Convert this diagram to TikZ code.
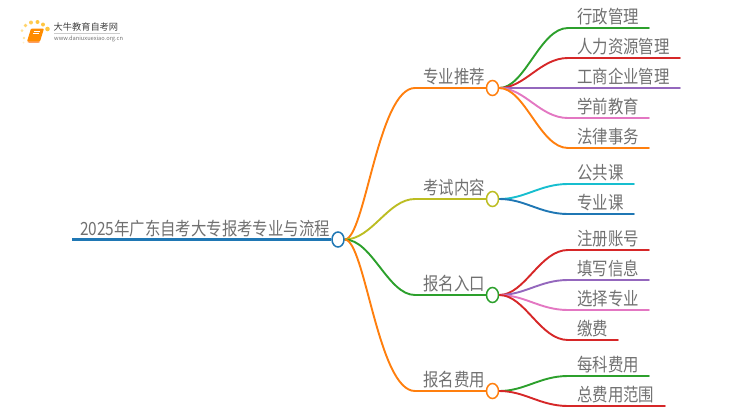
\documentclass[tikz,border=0pt]{standalone}
\usepackage{fontspec}
\setmainfont{Noto Sans CJK SC}
\usetikzlibrary{shapes.geometric,backgrounds}
\definecolor{corange}{HTML}{FF7F0E}
\definecolor{cgreen}{HTML}{2CA02C}
\definecolor{cred}{HTML}{D62728}
\definecolor{cpurple}{HTML}{9467BD}
\definecolor{cpink}{HTML}{E377C2}
\definecolor{colive}{HTML}{BCBD22}
\definecolor{ccyan}{HTML}{17BECF}
\definecolor{cblue}{HTML}{1F77B4}
\definecolor{ctext}{HTML}{707070}
\tikzset{
  x=1pt,y=-1pt,
  hub/.style={ellipse,draw,fill=white,line width=1.5pt,minimum width=12pt,minimum height=15pt,inner sep=0pt},
  lbl/.style={anchor=west,inner sep=0pt,text=ctext,font=\fontsize{15.4}{16}\selectfont},
  link/.style={line width=1.9pt,line cap=round},
  rootlink/.style={line width=2.8pt}
}
\newcommand{\tall}[1]{\scalebox{1}[1.18]{#1}}
\newcommand{\spoke}[4]{%
  \coordinate (#2k) at (568,#3);
  \coordinate (#2e) at (#4,#3);
  \draw[link,#1] (#2.east) .. controls (525,\csname hy#2\endcsname) and (540,#3) .. (#2k) -- (#2e);
}
\begin{document}
\begin{tikzpicture}
\useasboundingbox (0,0) rectangle (750,410);
% logo
\foreach \p/\r/\c in {{(24,38)}/1.4/FFE39A,{(22,30.5)}/1.5/FFE39A,{(25.5,25.5)}/1.8/FFD36B,{(31,22.5)}/2/FFCC55,{(37.5,22)}/2/FFC640,{(43,24.5)}/2/FFC640,{(47.5,29)}/2.3/FFC640,{(23.5,42.5)}/1/FFF0CC}
  {\definecolor{tc}{HTML}{\c}\fill[tc] \p circle (\r);}
\fill[rounded corners=1pt,fill=orange!90!yellow] (31,28.5) -- (44,28.5) -- (40,41.5) -- (27,41.5) -- cycle;
\fill[rounded corners=1pt,fill=corange!85!red] (27,41.5) -- (40,41.5) -- (39.5,42.5) -- (28,42.5) -- cycle;
\draw[white,line width=.5pt] (33.5,31) -- (40,31) (32.8,33.5) -- (39,33.5);
\node[anchor=west,inner sep=0pt,text=black!75] (logotitle) at (53.5,27) {\fontsize{9.2}{10}\selectfont 大牛教育自考网};
\draw[black!20,line width=.5pt] (54,33) -- (120,33);
\node[anchor=west,inner sep=0pt,text=black!55] (logourl) at (54,39) {\fontsize{5.7}{6}\selectfont www.daniuxuexiao.org.cn};
% hubs
\node[hub,draw=cblue] (root) at (338,239.5) {};
\node[hub,draw=corange] (a) at (492.5,88) {};
\node[hub,draw=colive] (b) at (492.5,199) {};
\node[hub,draw=cgreen] (c) at (492.5,295) {};
\node[hub,draw=corange] (d) at (492.5,391) {};
\def\hya{88}\def\hyb{199}\def\hyc{295}\def\hyd{391}
% texts
\node[lbl] (rootlabel) at (80,228.5) {\tall{2025年广东自考大专报考专业与流程}};
\node[lbl] (ta) at (423,77) {\tall{专业推荐}};
\node[lbl] (tb) at (423,188) {\tall{考试内容}};
\node[lbl] (tc) at (423,284) {\tall{报名入口}};
\node[lbl] (td) at (423,380) {\tall{报名费用}};
\node[lbl] (a1) at (577,17) {\tall{行政管理}};
\node[lbl] (a2) at (577,47) {\tall{人力资源管理}};
\node[lbl] (a3) at (577,77) {\tall{工商企业管理}};
\node[lbl] (a4) at (577,107) {\tall{学前教育}};
\node[lbl] (a5) at (577,137) {\tall{法律事务}};
\node[lbl] (b1) at (577,173) {\tall{公共课}};
\node[lbl] (b2) at (577,203) {\tall{专业课}};
\node[lbl] (c1) at (577,239) {\tall{注册账号}};
\node[lbl] (c2) at (577,269) {\tall{填写信息}};
\node[lbl] (c3) at (577,299) {\tall{选择专业}};
\node[lbl] (c4) at (577,329) {\tall{缴费}};
\node[lbl] (d1) at (577,365) {\tall{每科费用}};
\node[lbl] (d2) at (577,395) {\tall{总费用范围}};
\coordinate (rootstart) at (72,239.5);
\coordinate (ka) at (415,88);
\coordinate (kb) at (415,199);
\coordinate (kc) at (415,295);
\coordinate (kd) at (415,391);
\begin{scope}[on background layer]
\draw[rootlink,cblue] (rootstart) -- (root);
\draw[link,corange] (root.east) .. controls (365,239.5) and (378,88) .. (ka) -- (a);
\draw[link,colive] (root.east) .. controls (372,239.5) and (388,199) .. (kb) -- (b);
\draw[link,cgreen] (root.east) .. controls (372,239.5) and (388,295) .. (kc) -- (c);
\draw[link,corange] (root.east) .. controls (365,239.5) and (378,391) .. (kd) -- (d);
\spoke{cgreen}{a}{28}{649}
\spoke{cred}{a}{58}{680}
\spoke{cpurple}{a}{88}{680}
\spoke{cpink}{a}{118}{649}
\spoke{corange}{a}{148}{649}
\spoke{ccyan}{b}{184}{634}
\spoke{cblue}{b}{214}{634}
\spoke{cred}{c}{250}{649}
\spoke{cpurple}{c}{280}{649}
\spoke{cpink}{c}{310}{649}
\spoke{cred}{c}{340}{618}
\spoke{cgreen}{d}{376}{649}
\spoke{cred}{d}{406}{665}
\end{scope}
\end{tikzpicture}
\end{document}
